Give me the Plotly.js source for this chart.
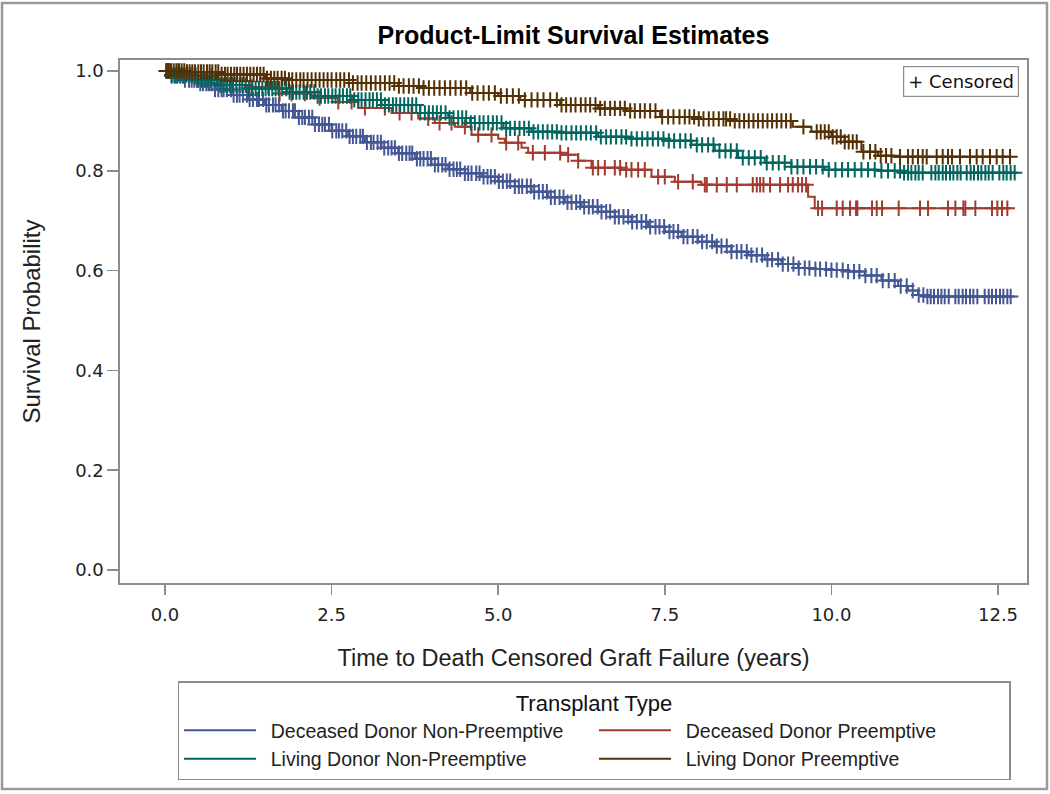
<!DOCTYPE html>
<html>
<head>
<meta charset="utf-8">
<script src="https://cdn.plot.ly/plotly-3.0.1.min.js"></script>
<style>
  html, body { margin: 0; padding: 0; background: #ffffff; }
  #chart { width: 1050px; height: 794px; }
</style>
</head>
<body>
<div id="chart"></div>
<script>
// ---------------- DATA ----------------
const chartTitle = "Product-Limit Survival Estimates";
const xTitle = "Time to Death Censored Graft Failure (years)";
const yTitle = "Survival Probability";
const legendTitle = "Transplant Type";
const censoredLabel = "+ Censored";
const groupNames = ["Deceased Donor Non-Preemptive", "Deceased Donor Preemptive",
                    "Living Donor Non-Preemptive", "Living Donor Preemptive"];
const groupColors = ["#445694", "#A23A2E", "#01665E", "#543005"];
const xTicks = [0, 2.5, 5, 7.5, 10, 12.5];
const yTicks = [0, 0.2, 0.4, 0.6, 0.8, 1.0];

// Kaplan-Meier step vertices (time in years, survival after event)
const ddnpTime = [0, 0.1, 0.3, 0.5, 0.75, 1.0, 1.25, 1.5, 1.75, 2.0, 2.25, 2.5, 2.75, 3.0, 3.25, 3.5, 3.75, 4.0, 4.25, 4.5, 4.75, 5.0, 5.25, 5.5, 5.75, 6.0, 6.25, 6.5, 6.75, 7.0, 7.25, 7.5, 7.75, 8.0, 8.25, 8.5, 8.75, 9.0, 9.25, 9.5, 9.75, 10.0, 10.25, 10.5, 10.75, 11.0, 11.15, 11.3, 11.4, 12.72];
const ddnpSurv = [1.0, 0.99, 0.982, 0.975, 0.963, 0.952, 0.943, 0.932, 0.92, 0.907, 0.893, 0.88, 0.869, 0.857, 0.846, 0.835, 0.824, 0.812, 0.803, 0.795, 0.788, 0.779, 0.769, 0.758, 0.747, 0.737, 0.728, 0.718, 0.708, 0.698, 0.688, 0.678, 0.668, 0.658, 0.649, 0.638, 0.631, 0.622, 0.613, 0.605, 0.603, 0.601, 0.598, 0.59, 0.58, 0.569, 0.56, 0.551, 0.548, 0.548];

const ddpTime = [0, 0.3, 0.8, 1.3, 1.7, 2.2, 2.6, 2.9, 3.4, 3.8, 4.05, 4.35, 4.6, 5.0, 5.1, 5.35, 5.45, 5.95, 6.2, 6.4, 6.85, 7.3, 7.65, 8.05, 9.65, 9.75, 12.7];
const ddpSurv = [1.0, 0.99, 0.98, 0.968, 0.955, 0.946, 0.938, 0.926, 0.916, 0.905, 0.896, 0.888, 0.872, 0.864, 0.856, 0.846, 0.836, 0.832, 0.82, 0.806, 0.802, 0.788, 0.778, 0.772, 0.748, 0.725, 0.725];

const ldnpTime = [0, 0.1, 0.5, 0.83, 1.25, 1.83, 2.25, 2.82, 3.25, 3.83, 4.25, 4.58, 5.08, 5.5, 5.93, 6.5, 7.0, 7.5, 7.9, 8.25, 8.6, 9.0, 9.4, 9.9, 10.7, 11.05, 12.78];
const ldnpSurv = [1.0, 0.992, 0.982, 0.972, 0.965, 0.958, 0.95, 0.942, 0.932, 0.916, 0.906, 0.896, 0.885, 0.878, 0.876, 0.868, 0.864, 0.86, 0.852, 0.84, 0.826, 0.816, 0.808, 0.802, 0.8, 0.796, 0.796];

const ldpTime = [0, 0.3, 0.83, 1.5, 1.83, 2.82, 3.5, 3.83, 4.58, 5.0, 5.33, 5.93, 6.5, 6.93, 7.43, 8.0, 8.5, 9.42, 9.7, 10.0, 10.2, 10.45, 10.7, 10.95, 12.7];
const ldpSurv = [1.0, 0.998, 0.993, 0.985, 0.982, 0.976, 0.97, 0.966, 0.956, 0.95, 0.942, 0.932, 0.925, 0.92, 0.908, 0.904, 0.9, 0.888, 0.878, 0.868, 0.858, 0.838, 0.83, 0.828, 0.828];

// Censoring times (years)
const ddnpCens = [0.03, 0.06, 0.1, 0.15, 0.18, 0.23, 0.27, 0.3, 0.36, 0.4, 0.44, 0.48, 0.53, 0.57, 0.62, 0.66, 0.7, 0.75, 0.8, 0.85, 0.88, 0.93, 0.99, 1.03, 1.08, 1.12, 1.17, 1.23, 1.27, 1.32, 1.38, 1.41, 1.47, 1.52, 1.56, 1.62, 1.66, 1.71, 1.77, 1.81, 1.86, 1.92, 1.95, 2.01, 2.06, 2.1, 2.16, 2.21, 2.25, 2.31, 2.36, 2.4, 2.46, 2.51, 2.57, 2.61, 2.66, 2.72, 2.77, 2.82, 2.87, 2.93, 2.97, 3.03, 3.09, 3.13, 3.19, 3.24, 3.29, 3.35, 3.4, 3.45, 3.51, 3.56, 3.62, 3.67, 3.71, 3.78, 3.83, 3.88, 3.94, 3.99, 4.05, 4.1, 4.16, 4.21, 4.27, 4.33, 4.38, 4.43, 4.5, 4.55, 4.6, 4.67, 4.72, 4.78, 4.84, 4.89, 4.95, 5.01, 5.07, 5.13, 5.18, 5.25, 5.31, 5.36, 5.43, 5.49, 5.54, 5.61, 5.67, 5.73, 5.79, 5.85, 5.92, 5.98, 6.04, 6.1, 6.17, 6.23, 6.29, 6.36, 6.42, 6.49, 6.55, 6.62, 6.68, 6.75, 6.81, 6.88, 6.95, 7.01, 7.08, 7.15, 7.22, 7.28, 7.36, 7.42, 7.49, 7.57, 7.63, 7.7, 7.78, 7.84, 7.92, 7.99, 8.06, 8.13, 8.21, 8.28, 8.35, 8.43, 8.5, 8.58, 8.65, 8.73, 8.8, 8.88, 8.96, 9.04, 9.11, 9.2, 9.27, 9.35, 9.43, 9.51, 9.6, 9.67, 9.76, 9.83, 9.92, 10.0, 10.08, 10.17, 10.25, 10.34, 10.42, 10.51, 10.6, 10.68, 10.77, 10.86, 10.95, 11.04, 11.13, 11.22, 11.31, 11.38, 11.44, 11.49, 11.54, 11.6, 11.65, 11.7, 11.76, 11.86, 11.91, 11.97, 12.02, 12.08, 12.13, 12.19, 12.3, 12.36, 12.41, 12.47, 12.53, 12.58, 12.64, 12.69];
const ddpCens = [0.2, 0.45, 0.7, 1.0, 1.3, 1.55, 1.72, 1.9, 2.1, 2.32, 2.6, 2.8, 3.0, 3.3, 3.52, 3.7, 3.95, 4.12, 4.3, 4.5, 4.7, 4.9, 5.12, 5.3, 5.52, 5.7, 5.93, 6.05, 6.2, 6.42, 6.5, 6.6, 6.75, 6.83, 6.92, 7.0, 7.1, 7.2, 7.4, 7.5, 7.7, 7.92, 8.1, 8.13, 8.28, 8.43, 8.58, 8.82, 8.88, 8.93, 8.98, 9.08, 9.23, 9.35, 9.42, 9.5, 9.56, 9.62, 9.8, 9.86, 10.08, 10.17, 10.28, 10.37, 10.39, 10.61, 10.68, 10.76, 11.01, 11.33, 11.45, 11.75, 11.86, 11.98, 12.01, 12.16, 12.41, 12.49, 12.56, 12.64];
const ldnpCens = [0.02, 0.06, 0.1, 0.14, 0.19, 0.23, 0.28, 0.32, 0.37, 0.41, 0.46, 0.5, 0.55, 0.6, 0.64, 0.69, 0.74, 0.78, 0.83, 0.88, 0.92, 0.97, 1.02, 1.07, 1.12, 1.16, 1.21, 1.26, 1.31, 1.36, 1.41, 1.46, 1.51, 1.56, 1.61, 1.66, 1.71, 1.76, 1.82, 1.87, 1.92, 1.97, 2.02, 2.08, 2.13, 2.18, 2.24, 2.29, 2.34, 2.4, 2.45, 2.51, 2.56, 2.62, 2.67, 2.73, 2.78, 2.84, 2.9, 2.95, 3.01, 3.07, 3.12, 3.18, 3.24, 3.3, 3.36, 3.42, 3.47, 3.53, 3.59, 3.65, 3.71, 3.77, 3.83, 3.9, 3.96, 4.02, 4.08, 4.14, 4.21, 4.27, 4.33, 4.4, 4.46, 4.52, 4.59, 4.65, 4.72, 4.78, 4.85, 4.92, 4.98, 5.05, 5.12, 5.18, 5.25, 5.32, 5.39, 5.46, 5.53, 5.6, 5.67, 5.74, 5.81, 5.88, 5.95, 6.02, 6.1, 6.17, 6.24, 6.32, 6.39, 6.47, 6.54, 6.62, 6.69, 6.77, 6.85, 6.92, 7.0, 7.08, 7.16, 7.24, 7.32, 7.4, 7.48, 7.56, 7.64, 7.73, 7.81, 7.89, 7.98, 8.06, 8.15, 8.23, 8.32, 8.41, 8.49, 8.58, 8.67, 8.76, 8.85, 8.94, 9.03, 9.12, 9.21, 9.3, 9.4, 9.49, 9.58, 9.68, 9.77, 9.87, 9.96, 10.06, 10.16, 10.25, 10.35, 10.45, 10.55, 10.65, 10.75, 10.85, 10.95, 11.03, 11.09, 11.15, 11.2, 11.26, 11.31, 11.37, 11.5, 11.56, 11.61, 11.67, 11.72, 11.78, 11.83, 11.89, 11.94, 12.03, 12.09, 12.14, 12.2, 12.25, 12.31, 12.36, 12.42, 12.52, 12.58, 12.63, 12.69, 12.75];
const ldpCens = [0.02, 0.05, 0.09, 0.13, 0.17, 0.21, 0.25, 0.29, 0.33, 0.37, 0.41, 0.45, 0.5, 0.54, 0.58, 0.63, 0.67, 0.71, 0.76, 0.8, 0.85, 0.9, 0.94, 0.99, 1.04, 1.08, 1.13, 1.18, 1.23, 1.28, 1.33, 1.38, 1.43, 1.48, 1.53, 1.59, 1.64, 1.69, 1.75, 1.8, 1.86, 1.91, 1.97, 2.03, 2.08, 2.14, 2.2, 2.26, 2.32, 2.38, 2.44, 2.5, 2.57, 2.63, 2.69, 2.76, 2.82, 2.89, 2.95, 3.02, 3.09, 3.16, 3.23, 3.3, 3.37, 3.44, 3.51, 3.58, 3.66, 3.73, 3.81, 3.88, 3.96, 4.04, 4.12, 4.2, 4.28, 4.36, 4.44, 4.52, 4.61, 4.69, 4.78, 4.86, 4.95, 5.04, 5.13, 5.22, 5.31, 5.4, 5.5, 5.59, 5.68, 5.78, 5.88, 5.95, 6.02, 6.09, 6.16, 6.24, 6.31, 6.38, 6.46, 6.53, 6.6, 6.68, 6.75, 6.83, 6.9, 6.98, 7.05, 7.13, 7.2, 7.28, 7.36, 7.46, 7.55, 7.63, 7.72, 7.8, 7.87, 7.94, 8.01, 8.08, 8.16, 8.23, 8.31, 8.38, 8.42, 8.48, 8.55, 8.62, 8.69, 8.76, 8.83, 8.9, 8.97, 9.04, 9.11, 9.18, 9.25, 9.32, 9.39, 9.58, 9.78, 9.84, 9.9, 9.96, 10.02, 10.08, 10.14, 10.2, 10.26, 10.32, 10.38, 10.48, 10.58, 10.66, 10.74, 10.82, 10.9, 11.03, 11.15, 11.22, 11.3, 11.37, 11.43, 11.58, 11.67, 11.75, 11.81, 11.93, 12.08, 12.18, 12.27, 12.38, 12.48, 12.57, 12.68];

// ---------------- BUILD ----------------
const stepTimes = [ddnpTime, ddpTime, ldnpTime, ldpTime];
const stepSurv = [ddnpSurv, ddpSurv, ldnpSurv, ldpSurv];
const censTimes = [ddnpCens, ddpCens, ldnpCens, ldpCens];

function survAt(times, surv, t) {
  let v = surv[0];
  for (let i = 0; i < times.length; i++) { if (times[i] <= t) v = surv[i]; }
  return v;
}

const traces = [];
for (let g = 0; g < 4; g++) {
  traces.push({
    type: "scatter", mode: "lines", name: "\u2002" + groupNames[g],
    x: stepTimes[g], y: stepSurv[g],
    line: { color: groupColors[g], width: 2, shape: "hv" },
    legendrank: g + 1, hoverinfo: "skip"
  });
}
for (let g = 0; g < 4; g++) {
  traces.push({
    type: "scatter", mode: "markers", name: groupNames[g] + " censored", showlegend: false,
    x: censTimes[g], y: censTimes[g].map(t => survAt(stepTimes[g], stepSurv[g], t)),
    marker: { symbol: "cross-thin", size: 11, color: groupColors[g],
              line: { color: groupColors[g], width: 2 } },
    hoverinfo: "skip"
  });
}

const W = 1050, H = 794, ML = 120, MR = 23, MT = 60, MB = 211;
const PW = W - ML - MR, PH = H - MT - MB;
function px2paperX(px) { return (px - ML) / PW; }
function px2paperY(py) { return (H - MB - py) / PH; }

const FONT = "Liberation Sans, Arial, sans-serif";
const TICKFONT = "DejaVu Sans, Verdana, sans-serif";
const layout = {
  width: W, height: H,
  margin: { l: ML, r: MR, t: MT, b: MB, pad: 0 },
  paper_bgcolor: "#ffffff", plot_bgcolor: "#ffffff",
  font: { family: FONT, color: "#222222", size: 16 },
  title: { text: "<b>" + chartTitle + "</b>", x: 0.5, xref: "paper", xanchor: "center",
           y: 1 - 35 / H, yref: "container", yanchor: "middle",
           font: { family: FONT, size: 25, color: "#000000" } },
  xaxis: {
    range: [-0.675, 12.935], tickvals: xTicks, ticktext: xTicks.map(v => v.toFixed(1)),
    showline: true, mirror: true, linecolor: "#8c8c8c", linewidth: 1.6,
    ticks: "outside", ticklen: 10, tickwidth: 1.5, tickcolor: "#8c8c8c", ticklabelstandoff: 5,
    showgrid: false, zeroline: false, tickfont: { family: TICKFONT, size: 18, color: "#222222" },
    title: { text: xTitle, font: { family: FONT, size: 23.5, color: "#222222" }, standoff: 25 }
  },
  yaxis: {
    range: [-0.026, 1.022], tickvals: yTicks, ticktext: yTicks.map(v => v.toFixed(1)),
    showline: true, mirror: true, linecolor: "#8c8c8c", linewidth: 1.6,
    ticks: "outside", ticklen: 11, tickwidth: 1.5, tickcolor: "#8c8c8c",
    showgrid: false, zeroline: false, tickfont: { family: TICKFONT, size: 18, color: "#222222" },
    title: { text: yTitle, font: { family: FONT, size: 24, color: "#222222" }, standoff: 28 }
  },
  showlegend: true,
  legend: {
    orientation: "h", x: px2paperX(594), xanchor: "center", y: px2paperY(681), yanchor: "top",
    bgcolor: "#ffffff", bordercolor: "#8c8c8c", borderwidth: 1.5,
    font: { family: FONT, size: 19.5, color: "#222222" },
    title: { text: legendTitle, side: "top center", font: { family: FONT, size: 22, color: "#111111" } },
    itemwidth: 72, entrywidth: 328, entrywidthmode: "pixels", tracegroupgap: 0, traceorder: "normal"
  },
  annotations: [{
    xref: "paper", yref: "paper", x: px2paperX(1019), y: px2paperY(66),
    xanchor: "right", yanchor: "top", showarrow: false,
    text: censoredLabel, font: { family: TICKFONT, size: 18, color: "#111111" },
    bordercolor: "#8c8c8c", borderwidth: 1.2, borderpad: 4, bgcolor: "#ffffff"
  }],
  shapes: [{
    type: "rect", xref: "paper", yref: "paper", layer: "below",
    x0: px2paperX(2), x1: px2paperX(1047), y0: px2paperY(789), y1: px2paperY(3),
    line: { color: "#9a9a9a", width: 2.5 }, fillcolor: "rgba(0,0,0,0)"
  }]
};

Plotly.newPlot("chart", traces, layout, { displayModeBar: false, staticPlot: true });
</script>
</body>
</html>
